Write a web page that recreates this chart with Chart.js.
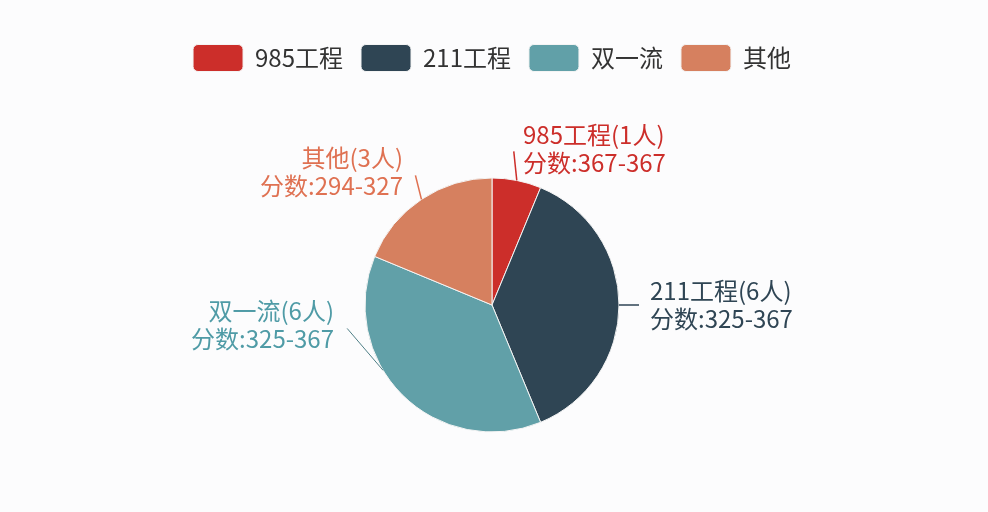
<!DOCTYPE html>
<html>
<head>
<meta charset="utf-8">
<script src="https://cdn.jsdelivr.net/npm/chart.js@4/dist/chart.umd.min.js"></script>
<style>
    html, body { margin: 0; padding: 0; background: #fcfcfd; }
    #wrap { width: 988px; height: 512px; position: relative; }
</style>
</head>
<body>
<div id="wrap"><canvas id="pieChart"></canvas></div>
<script>
// data
const categories = ['985工程', '211工程', '双一流', '其他'];
const counts = [1, 6, 6, 3];
const scoreMin = [367, 325, 325, 294];
const scoreMax = [367, 367, 367, 327];

// echarts-like palette
const sliceColors = ['#cc2e2a', '#2f4554', '#61a0a8', '#d6805f'];
const textColors = ['#cc2e2a', '#2f4554', '#4f9ba6', '#df7152'];

const FONT = '"Noto Sans CJK SC", "Noto Sans", sans-serif';

// where each outside label sits, relative to the pie center
const labelLayout = [
    { shift: 0,  lineDx: -3,  lineDy: -29, textX: 31,   textY: -170, align: 'left' },
    { shift: 0,  lineDx: 20,  lineDy: 0,   textX: 158,  textY: -14,  align: 'left' },
    { shift: 14, lineDx: -36, lineDy: -42, textX: -158, textY: 6,    align: 'right' },
    { shift: 0,  lineDx: -6,  lineDy: -24, textX: -89,  textY: -147, align: 'right' }
];

// draws leader lines and the two-line labels
const outsideLabels = {
    id: 'outsideLabels',
    afterDatasetsDraw(chart) {
        const ctx = chart.ctx;
        const meta = chart.getDatasetMeta(0);
        meta.data.forEach((arc, i) => {
            const lay = labelLayout[i];
            const mid = (arc.startAngle + arc.endAngle) / 2 + lay.shift * Math.PI / 180;
            const sx = arc.x + Math.cos(mid) * arc.outerRadius;
            const sy = arc.y + Math.sin(mid) * arc.outerRadius;

            ctx.save();
            ctx.strokeStyle = i === 2 ? '#4f7f86' : textColors[i];
            ctx.lineWidth = i === 2 ? 1 : 1.5;
            ctx.beginPath();
            ctx.moveTo(sx, sy);
            ctx.lineTo(sx + lay.lineDx, sy + lay.lineDy);
            ctx.stroke();

            ctx.fillStyle = textColors[i];
            ctx.font = '24px ' + FONT;
            ctx.textAlign = lay.align;
            ctx.textBaseline = 'middle';
            const tx = arc.x + lay.textX;
            const ty = arc.y + lay.textY;
            ctx.fillText(categories[i] + '(' + counts[i] + '人)', tx, ty);
            ctx.fillText('分数:' + scoreMin[i] + '-' + scoreMax[i], tx, ty + 28);
            ctx.restore();
        });
    }
};

document.addEventListener('DOMContentLoaded', () => {
    const ctx = document.getElementById('pieChart').getContext('2d');
    new Chart(ctx, {
        type: 'pie',
        data: {
            labels: categories,
            datasets: [{
                data: counts,
                backgroundColor: sliceColors,
                borderColor: '#f4f4f4',
                borderWidth: 1,
                radius: 127
            }]
        },
        options: {
            responsive: true,
            maintainAspectRatio: false,
            animation: false,
            layout: {
                padding: { top: 26.5, bottom: 1.5, left: 0, right: 4 }
            },
            plugins: {
                tooltip: { enabled: false },
                // empty title used as a spacer under the legend
                title: {
                    display: true,
                    text: '',
                    weight: 500,
                    padding: 0,
                    font: { size: 18, lineHeight: 1 }
                },
                legend: {
                    position: 'top',
                    labels: {
                        boxWidth: 50,
                        boxHeight: 27,
                        padding: 18,
                        useBorderRadius: true,
                        borderRadius: 5,
                        color: '#333',
                        font: { size: 24, family: FONT }
                    }
                }
            }
        },
        plugins: [outsideLabels]
    });
});
</script>
</body>
</html>
